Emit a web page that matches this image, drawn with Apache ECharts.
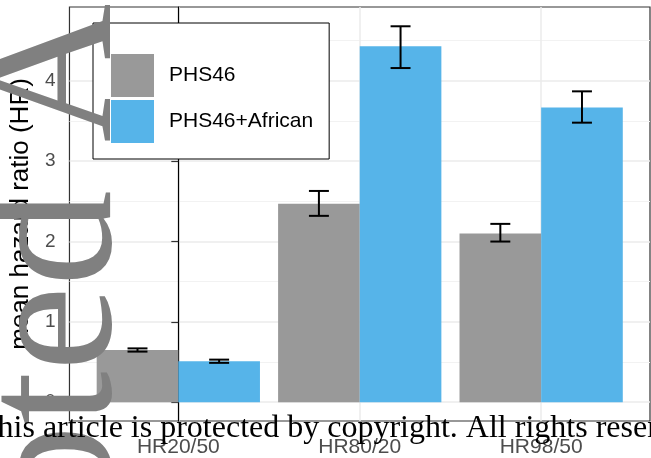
<!DOCTYPE html>
<html><head><meta charset="utf-8">
<script src="https://cdn.jsdelivr.net/npm/echarts@6/dist/echarts.min.js"></script>
<style>html,body{margin:0;padding:0;background:#fff}#c{width:651px;height:458px}</style>
</head><body><div id="c"></div>
<script>
const categories = ['HR20/50', 'HR80/20', 'HR98/50'];
const groupNames = ['PHS46', 'PHS46+African'];
const phs46Mean = [0.65, 2.47, 2.10];
const phs46Lower = [0.63, 2.32, 2.00];
const phs46Upper = [0.67, 2.63, 2.22];
const africanMean = [0.51, 4.43, 3.67];
const africanLower = [0.49, 4.16, 3.48];
const africanUpper = [0.53, 4.68, 3.87];
const yTicks = [0, 1, 2, 3, 4];
const xTicks = [0, 1, 2];

const GRAY = '#999999', BLUE = '#56B4E9';
const BARW = 0.45;
const CAPW = 0.055;

function barSeries(name, color, means, offset) {
  return {
    type: 'custom', name: name, itemStyle: { color: color },
    data: means.map((v, i) => [i, v]),
    encode: { x: 0, y: 1 },
    renderItem: function (params, api) {
      const i = api.value(0), v = api.value(1);
      const p0 = api.coord([i + offset - BARW / 2, v]);
      const p1 = api.coord([i + offset + BARW / 2, 0]);
      return { type: 'rect', shape: { x: p0[0], y: p0[1], width: p1[0] - p0[0], height: p1[1] - p0[1] }, style: { fill: color } };
    }
  };
}
function errSeries(name, lower, upper, offset) {
  return {
    type: 'custom', name: name + ' err', z: 5,
    data: lower.map((v, i) => [i, v, upper[i]]),
    encode: { x: 0, y: [1, 2] },
    renderItem: function (params, api) {
      const i = api.value(0) + offset;
      const lo = api.coord([i, api.value(1)]);
      const hi = api.coord([i, api.value(2)]);
      const l = api.coord([i - CAPW, api.value(1)])[0];
      const r = api.coord([i + CAPW, api.value(1)])[0];
      const st = { stroke: '#000', lineWidth: 2 };
      return { type: 'group', children: [
        { type: 'line', shape: { x1: lo[0], y1: lo[1], x2: hi[0], y2: hi[1] }, style: st },
        { type: 'line', shape: { x1: l, y1: lo[1], x2: r, y2: lo[1] }, style: st },
        { type: 'line', shape: { x1: l, y1: hi[1], x2: r, y2: hi[1] }, style: st }
      ] };
    }
  };
}

const chart = echarts.init(document.getElementById('c'), null, { renderer: 'canvas' });
chart.setOption({
  animation: false,
  backgroundColor: '#fff',
  textStyle: { fontFamily: 'Liberation Sans' },
  grid: { left: 66, right: 1, top: 7, bottom: 33, show: true, borderColor: '#333', borderWidth: 1.2, backgroundColor: 'transparent' },
  xAxis: {
    type: 'value', min: -0.6, max: 2.6,
    axisLine: { show: false }, axisTick: { show: false, customValues: xTicks },
    axisLabel: { customValues: xTicks, formatter: v => categories[Math.round(v)], fontSize: 21, color: '#4d4d4d', margin: 16 },
    splitLine: { show: true, lineStyle: { color: '#ebebeb', width: 1.5 } }
  },
  yAxis: {
    type: 'value', min: -0.234, max: 4.92, minInterval: 1, maxInterval: 1,
    name: 'mean hazard ratio (HR)', nameLocation: 'middle', nameRotate: 90, nameGap: 32,
    nameTextStyle: { fontSize: 26, color: '#000', fontFamily: 'Liberation Sans' },
    axisLine: { show: true, lineStyle: { color: '#000', width: 1.2 } },
    axisTick: { show: true, customValues: yTicks, length: 7, lineStyle: { color: '#333', width: 1.2 } },
    axisLabel: { customValues: yTicks, fontSize: 19, color: '#4d4d4d', margin: 14 },
    splitLine: { show: true, lineStyle: { color: '#ebebeb', width: 1.5 } },
    minorTick: { show: false, splitNumber: 2 },
    minorSplitLine: { show: true, lineStyle: { color: '#f2f2f2', width: 1 } }
  },
  legend: {
    data: groupNames, orient: 'vertical', left: 93, top: 23,
    itemWidth: 43, itemHeight: 43, itemGap: 3, icon: 'rect',
    padding: [31, 16, 16, 18], backgroundColor: '#fff', borderColor: '#000', borderWidth: 1,
    selectedMode: false,
    textStyle: { fontSize: 21, color: '#000', fontFamily: 'Liberation Sans', padding: [0, 0, 0, 10] }
  },
  series: [
    barSeries(groupNames[0], GRAY, phs46Mean, -BARW / 2),
    barSeries(groupNames[1], BLUE, africanMean, BARW / 2),
    errSeries(groupNames[0], phs46Lower, phs46Upper, -BARW / 2),
    errSeries(groupNames[1], africanLower, africanUpper, BARW / 2)
  ],
  graphic: [
    { type: 'text', x: 60, y: 915, rotation: Math.PI / 2, z: 100, silent: true,
      style: { text: 'Accepted Article', font: '192px "Liberation Serif"', fill: '#808080', align: 'left', verticalAlign: 'middle' } },
    { type: 'text', x: -22, y: 429, z: 100, silent: true,
      style: { text: 'This article is protected by copyright. All rights reserved.', font: '32px "Liberation Serif"', fill: '#000', align: 'left', verticalAlign: 'middle' } }
  ]
});
</script></body></html>
